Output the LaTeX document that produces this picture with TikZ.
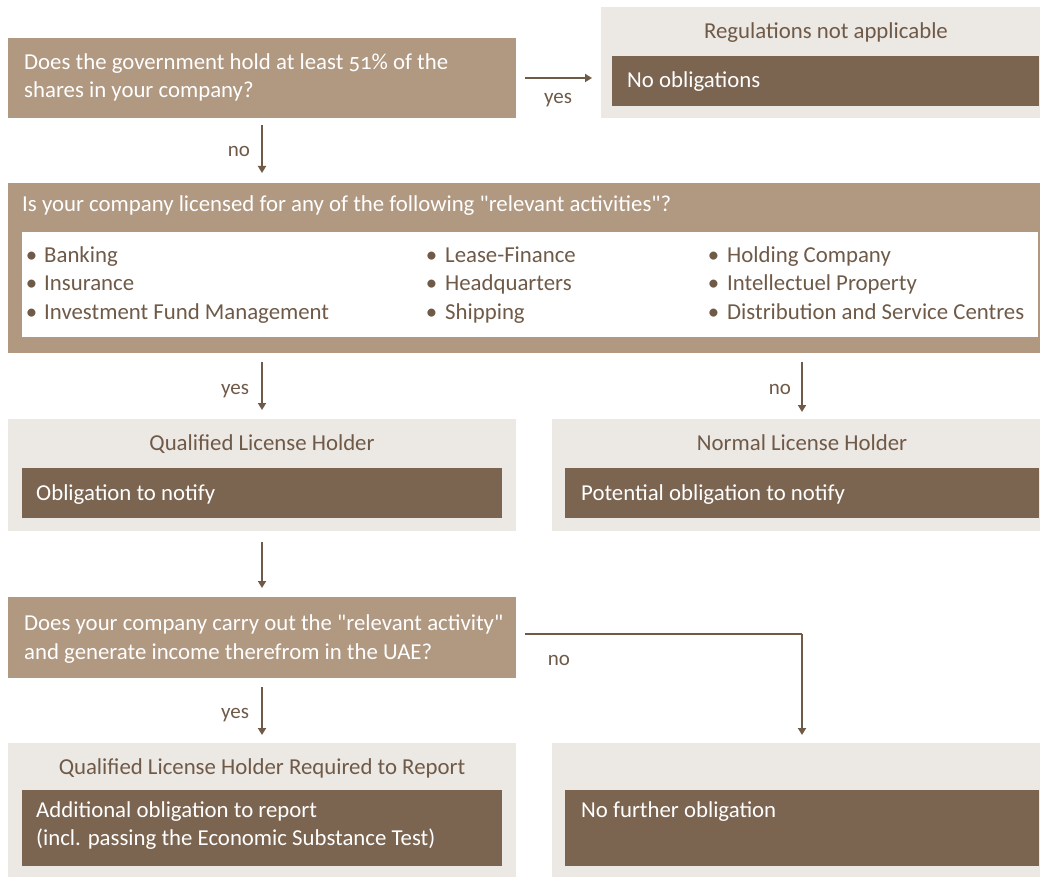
\documentclass[tikz,border=0pt]{standalone}
\usepackage{fontspec}
\setmainfont{Carlito}[Numbers=OldStyle, Ligatures=TeXOff]
\usetikzlibrary{arrows.meta}
\definecolor{tanc}{HTML}{B09881}
\definecolor{darkc}{HTML}{7B6450}
\definecolor{palec}{HTML}{ECE8E3}
\definecolor{inkc}{HTML}{6F5A48}
\begin{document}
\begin{tikzpicture}[x=1pt,y=-1pt,
  rect/.style={inner sep=0pt, outer sep=0pt, draw=none, anchor=north west},
  tanbox/.style={rect, fill=tanc},
  darkbox/.style={rect, fill=darkc},
  palebox/.style={rect, fill=palec},
  whitebox/.style={rect, fill=white},
  wtxt/.style={inner sep=0pt, anchor=base west, text=white, font=\fontsize{22.8}{27}\selectfont},
  btxt/.style={inner sep=0pt, anchor=base west, text=inkc, font=\fontsize{22.8}{27}\selectfont},
  ttl/.style={inner sep=0pt, anchor=base, text=inkc, font=\fontsize{22.8}{27}\selectfont},
  lbl/.style={inner sep=0pt, anchor=base, text=inkc, font=\fontsize{21}{25}\selectfont},
  arr/.style={draw=inkc, line width=2pt, -{Triangle[width=8pt,length=7pt]}},
  ln/.style={draw=inkc, line width=2pt}
]
\useasboundingbox (0,0) rectangle (1040,877);
\fill[white] (0,0) rectangle (1040,877);

% question 1
\node[tanbox, minimum width=508pt, minimum height=80pt] (q1) at (8,38) {};
\node[wtxt] (q1a) at (24,70) {Does the government hold at least 51\% of the};
\node[wtxt] (q1b) at (24,98) {shares in your company?};

% regulations not applicable
\node[palebox, minimum width=439pt, minimum height=111pt] (r1) at (601,7) {};
\node[darkbox, minimum width=427pt, minimum height=50pt] (r1d) at (612,56) {};
\node[ttl] (r1t) at (826,39) {Regulations not applicable};
\node[wtxt] (r1x) at (627,88) {No obligations};

% yes arrow
\draw[arr] ([xshift=9pt]q1.east) -- ([xshift=-9pt]q1.east -| r1.west);
\node[lbl] (y1) at (558,104) {yes};

% no arrow
\draw[arr, shorten <=7pt, shorten >=10pt] (q1.south) -- (q1.south |- 0,183);
\node[lbl] (n1) at (239,157) {no};

% question 2
\node[tanbox, minimum width=1032pt, minimum height=170pt] (q2) at (8,183) {};
\node[wtxt] (q2t) at (22,212) {Is your company licensed for any of the following "relevant activities"?};
\node[whitebox, minimum width=1016pt, minimum height=105pt] (q2w) at (22,232) {};
\node[btxt] (i1) at (44,262) {\llap{\textbullet\hspace{7pt}}Banking};
\node[btxt] (i2) at (44,290) {\llap{\textbullet\hspace{7pt}}Insurance};
\node[btxt] (i3) at (44,319) {\llap{\textbullet\hspace{7pt}}Investment Fund Management};
\node[btxt] (i4) at (445,262) {\llap{\textbullet\hspace{8pt}}Lease-Finance};
\node[btxt] (i5) at (445,290) {\llap{\textbullet\hspace{8pt}}Headquarters};
\node[btxt] (i6) at (445,319) {\llap{\textbullet\hspace{8pt}}Shipping};
\node[btxt] (i7) at (727,262) {\llap{\textbullet\hspace{8pt}}Holding Company};
\node[btxt] (i8) at (727,290) {\llap{\textbullet\hspace{8pt}}Intellectuel Property};
\node[btxt] (i9) at (727,319) {\llap{\textbullet\hspace{8pt}}Distribution and Service Centres};

% qualified license holder
\node[palebox, minimum width=508pt, minimum height=112pt] (qh) at (8,419) {};
\node[darkbox, minimum width=480pt, minimum height=50pt] (qd) at (22,468) {};
\node[ttl] (qht) at (262,450) {Qualified License Holder};
\node[wtxt] (qdx) at (36,500) {Obligation to notify};

% normal license holder
\node[palebox, minimum width=488pt, minimum height=112pt] (nh) at (552,419) {};
\node[darkbox, minimum width=474pt, minimum height=50pt] (nd) at (565,468) {};
\node[ttl] (nht) at (802,450) {Normal License Holder};
\node[wtxt] (ndx) at (581,500) {Potential obligation to notify};

% arrows from question 2
\draw[arr, shorten <=9pt, shorten >=9pt] (q2.south -| qd.north) -- (qh.north -| qd.north);
\node[lbl] (y2) at (235,394) {yes};
\draw[arr, shorten <=9pt, shorten >=7pt] (q2.south -| nd.north) -- (nh.north -| nd.north);
\node[lbl] (n2) at (780,394) {no};

% question 3
\node[tanbox, minimum width=508pt, minimum height=81pt] (q3) at (8,597) {};
\node[wtxt] (q3a) at (24,630) {Does your company carry out the "relevant activity"};
\node[wtxt] (q3b) at (24,659) {and generate income therefrom in the UAE?};
\draw[arr, shorten <=11pt, shorten >=9pt] (qh.south -| qd.north) -- (q3.north -| qd.north);

% bottom boxes
\node[palebox, minimum width=508pt, minimum height=134pt] (rq) at (8,743) {};
\node[darkbox, minimum width=480pt, minimum height=76pt] (rqd) at (22,790) {};
\node[ttl] (rqt) at (262,774) {Qualified License Holder Required to Report};
\node[wtxt] (rqa) at (36,817) {Additional obligation to report};
\node[wtxt] (rqb) at (36,845) {(incl. passing the Economic Substance Test)};

\node[palebox, minimum width=488pt, minimum height=134pt] (nf) at (552,743) {};
\node[darkbox, minimum width=474pt, minimum height=76pt] (nfd) at (565,790) {};
\node[wtxt] (nfx) at (581,817) {No further obligation};

% yes / no from question 3
\draw[arr, shorten <=9pt, shorten >=8pt] (q3.south -| rqd.north) -- (rq.north -| rqd.north);
\node[lbl] (y3) at (235,718) {yes};
\coordinate (q3o) at ([shift={(9,-3.5)}]q3.east);
\draw[ln] (q3o) -- (q3o -| nfd.north);
\draw[arr, shorten >=8pt] (q3o -| nfd.north) -- (nf.north -| nfd.north);
\node[lbl] (n3) at (559,665) {no};
\end{tikzpicture}
\end{document}
